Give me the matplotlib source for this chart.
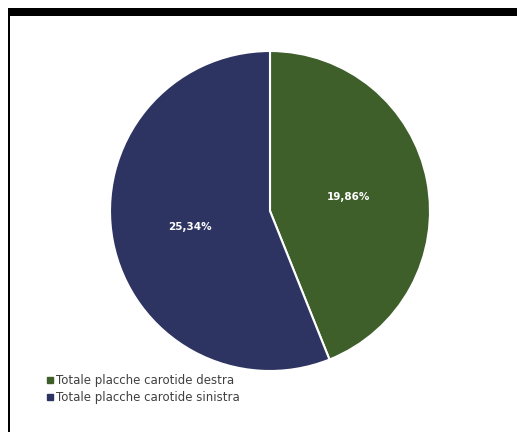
import matplotlib
matplotlib.use("Agg")
import matplotlib.pyplot as plt
from matplotlib.patches import Rectangle
from matplotlib.lines import Line2D

categories = ["Totale placche carotide destra", "Totale placche carotide sinistra"]
values = [19.86, 25.34]
colors = ["#3e5e2a", "#2e3462"]

W, H = 517, 432
fig = plt.figure(figsize=(W / 100, H / 100), dpi=100)
fig.patch.set_facecolor("white")

# frame decorations
fig.add_artist(Rectangle((8 / W, (H - 16) / H), (W - 8) / W, 8 / H,
                         transform=fig.transFigure, facecolor="black", edgecolor="none"))
fig.add_artist(Rectangle((8 / W, 0), 2 / W, (H - 16) / H,
                         transform=fig.transFigure, facecolor="black", edgecolor="none"))

cx, cy, r = 270, H - 211, 160
ax = fig.add_axes([(cx - r) / W, (cy - r) / H, 2 * r / W, 2 * r / H])
wedges, _ = ax.pie(values, colors=colors, startangle=90, counterclock=False,
                   wedgeprops=dict(edgecolor="white", linewidth=1.5))
ax.set_aspect("equal")
ax.set_xlim(-1, 1)
ax.set_ylim(-1, 1)
ax.axis("off")

label_pos = [(0.49, 0.09), (-0.5, -0.1)]
for v, (lx, ly) in zip(values, label_pos):
    ax.text(lx, ly, f"{v:.2f}%".replace(".", ","), ha="center", va="center",
            color="white", fontsize=7.5, fontweight="bold")

handles = [Line2D([], [], marker="s", linestyle="none", markersize=4,
                  markerfacecolor=c, markeredgecolor=c) for c in colors]
fig.legend(handles, categories, loc="upper left",
           bbox_to_anchor=(47 / W, (H - 374) / H), frameon=False,
           fontsize=8.5, handlelength=0.5, handletextpad=0.3,
           labelspacing=0.35, borderaxespad=0, borderpad=0, labelcolor="#404040")

fig.savefig("out.png", dpi=100, facecolor="white")
